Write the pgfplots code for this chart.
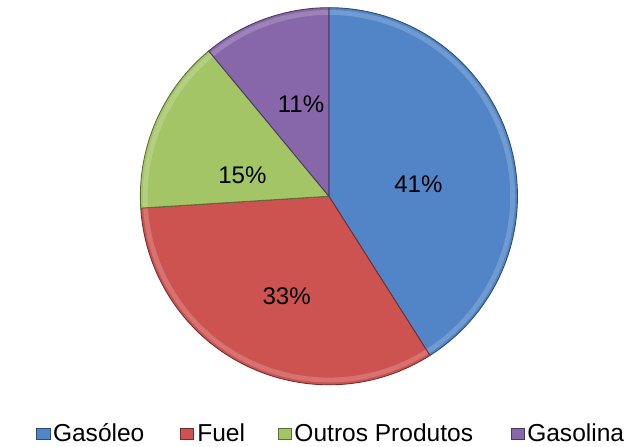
\documentclass[border=0pt]{standalone}
\usepackage{pgfplots}
\pgfplotsset{compat=1.18}
\usepackage{pgfplotstable}
\usepackage{fontspec}
\setmainfont{Liberation Sans}
\definecolor{cGas}{HTML}{5185C7}
\definecolor{cFuel}{HTML}{CD5351}
\definecolor{cOut}{HTML}{A3C565}
\definecolor{cGsl}{HTML}{8767AA}

\pgfplotstableread{
idx value lx ly
0 41 410 273
1 33 273 156
2 15 227 282
3 11 288 356
}\piedata

\begin{document}
\pgfplotstablegetelem{0}{value}\of\piedata \edef\vA{\pgfplotsretval}
\pgfplotstablegetelem{1}{value}\of\piedata \edef\vB{\pgfplotsretval}
\pgfplotstablegetelem{2}{value}\of\piedata \edef\vC{\pgfplotsretval}
\pgfplotstablegetelem{3}{value}\of\piedata \edef\vD{\pgfplotsretval}
\pgfmathsetmacro\aA{90}
\pgfmathsetmacro\aB{\aA-3.6*\vA}
\pgfmathsetmacro\aC{\aB-3.6*\vB}
\pgfmathsetmacro\aD{\aC-3.6*\vC}
\pgfmathsetmacro\aE{\aD-3.6*\vD}
\begin{tikzpicture}
\begin{axis}[scale only axis, width=630bp, height=464bp,
  xmin=0, xmax=630, ymin=0, ymax=464, hide axis, clip=false]
\coordinate (ll) at (axis cs:0,0);
\coordinate (ur) at (axis cs:630,464);
\def\cx{317}\def\cy{260}\def\R{196bp}\def\Ri{191bp}
\def\sector#1#2#3{%
  \fill[#1] (axis cs:\cx,\cy) -- ++(#2:\R) arc[start angle=#2, end angle=#3, radius=\R] -- cycle;
  \draw[#1!82!white, line width=5bp] (axis cs:\cx,\cy) ++(#2:\Ri) arc[start angle=#2, end angle=#3, radius=\Ri];
  \draw[#1!55!black, line width=0.9bp] (axis cs:\cx,\cy) -- ++(#2:\R) arc[start angle=#2, end angle=#3, radius=\R] -- cycle;}
\sector{cGas}{\aA}{\aB}
\sector{cFuel}{\aB}{\aC}
\sector{cOut}{\aC}{\aD}
\sector{cGsl}{\aD}{\aE}
\addplot[only marks, mark=none, nodes near coords={\pgfplotspointmeta\%},
  point meta=explicit symbolic, every node near coord/.style={anchor=center, font=\fontsize{25bp}{30bp}\selectfont}]
  table[x=lx, y=ly, meta=value] {\piedata};
% legend
\tikzset{lg/.style={anchor=base west, inner sep=0pt, font=\fontsize{25.5bp}{30bp}\selectfont}}
\fill[cGas, draw=cGas!55!black] (axis cs:13,7) rectangle (axis cs:27,19);
\node[lg] at (axis cs:30,5) {Gasóleo};
\fill[cFuel, draw=cFuel!55!black] (axis cs:162,7) rectangle (axis cs:176,19);
\node[lg] at (axis cs:180,5) {Fuel};
\fill[cOut, draw=cOut!55!black] (axis cs:264,7) rectangle (axis cs:278,19);
\node[lg] at (axis cs:281,5) {Outros Produtos};
\fill[cGsl, draw=cGsl!55!black] (axis cs:506,7) rectangle (axis cs:520,19);
\node[lg] at (axis cs:523,5) {Gasolina};
\end{axis}
\pgfresetboundingbox
\path (ll) rectangle (ur);
\end{tikzpicture}
\end{document}
